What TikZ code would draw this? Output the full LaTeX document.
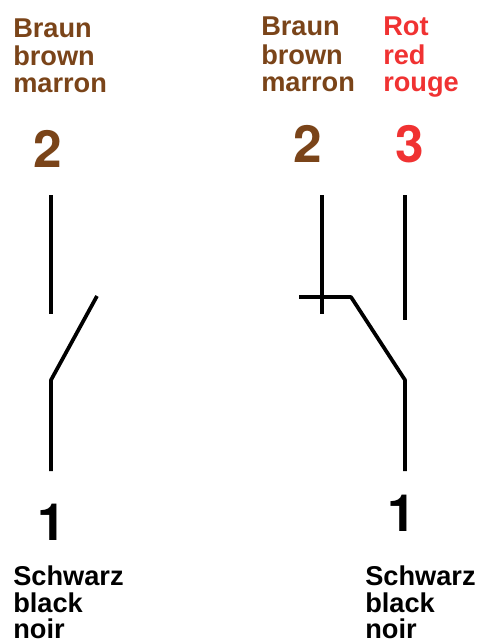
\documentclass[tikz,border=0pt]{standalone}
\usepackage{fontspec}
\setmainfont{Liberation Sans}
\newfontfamily\numfont{TeX Gyre Heros}
\definecolor{brn}{HTML}{7A4419}
\definecolor{rd}{HTML}{F03232}
\tikzset{
 lbl/.style={anchor=base west,inner sep=0pt,font=\fontsize{20.4}{20.4}\selectfont\bfseries},
 num/.style={anchor=base,inner sep=0pt,font=\numfont\fontsize{38.5}{38.5}\selectfont\bfseries},
 wire/.style={line width=2.8pt,black,line cap=butt,line join=round}
}
\begin{document}
\begin{tikzpicture}[x=1pt,y=-1pt,scale=0.75]
\useasboundingbox (0,0) rectangle (479,639);
\node[lbl,text=brn] (a1) at (13,37) {Braun};
\node[lbl,text=brn] (a2) at (13,65) {brown};
\node[lbl,text=brn] (a3) at (13,92) {marron};
\node[lbl,text=brn] (b1) at (261,36) {Braun};
\node[lbl,text=brn] (b2) at (261,64) {brown};
\node[lbl,text=brn] (b3) at (261,91) {marron};
\node[lbl,text=rd] (c1) at (383,36) {Rot};
\node[lbl,text=rd] (c2) at (383,64) {red};
\node[lbl,text=rd] (c3) at (383,91) {rouge};
\node[num,text=brn] (n2l) at (48,167) {2};
\node[num,text=brn] (n2r) at (308,162) {2};
\node[num,text=rd] (n3) at (410,162) {3};
\node[num] (n1l) at (51.5,540) {1};
\node[num] (n1r) at (401.5,531) {1};
\node[lbl] (d1) at (13,585) {Schwarz};
\node[lbl] (d2) at (13,612) {black};
\node[lbl] (d3) at (13,638) {noir};
\node[lbl] (e1) at (365,585) {Schwarz};
\node[lbl] (e2) at (365,612) {black};
\node[lbl] (e3) at (365,638) {noir};
\coordinate (lt) at (51,195); \coordinate (lb) at (51,314);
\coordinate (lh) at (51,380); \coordinate (le) at (51,471);
\coordinate (lm) at (97,296);
\draw[wire] (lt) -- (lb);
\draw[wire] (le) -- (lh) -- (lm);
\coordinate (rt) at (322,195); \coordinate (rb) at (322,314);
\draw[wire] (rt) -- (rb);
\coordinate (st) at (405,195); \coordinate (sb) at (405,320);
\draw[wire] (st) -- (sb);
\coordinate (rh) at (405,380); \coordinate (re) at (405,471);
\coordinate (rk) at (351,297); \coordinate (rl) at (299,297);
\draw[wire] (re) -- (rh) -- (rk) -- (rl);
\end{tikzpicture}
\end{document}
